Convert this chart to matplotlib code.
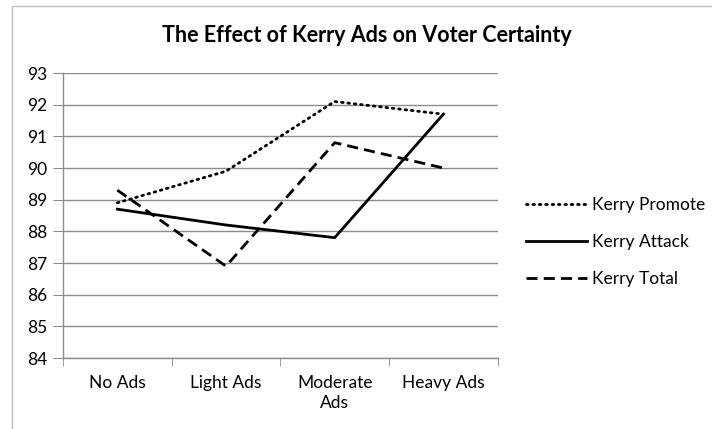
import matplotlib.pyplot as plt
from matplotlib.patches import Rectangle

categories = ["No Ads", "Light Ads", "Moderate\nAds", "Heavy Ads"]

promote = [88.9, 89.9, 92.1, 91.7]
attack = [88.7, 88.2, 87.8, 91.7]
total = [89.3, 86.9, 90.8, 90.0]

plt.rcParams["font.family"] = ["Lato", "DejaVu Sans"]

fig = plt.figure(figsize=(7.12, 4.29), dpi=100)
ax = fig.add_axes([0.0885, 0.1655, 0.6105, 0.6643])

# chart frame
fig.patches.append(Rectangle((12 / 712, -0.1), 1.2, 1 - 6 / 429 + 0.1,
                             transform=fig.transFigure, fill=False,
                             edgecolor="#bdbdbd", linewidth=1.0))

x = [i + 0.5 for i in range(len(categories))]

ax.plot(x, promote, color="black", linewidth=2.0, linestyle=(0, (0.6, 1.7)),
        dash_capstyle="round", label="Kerry Promote")
ax.plot(x, attack, color="black", linewidth=2.0, label="Kerry Attack")
ax.plot(x, total, color="black", linewidth=2.0, linestyle=(0, (4, 2.2)),
        label="Kerry Total")

ax.set_xlim(0, 4)
ax.set_ylim(84, 93)
ax.set_yticks(range(84, 94))
ax.set_xticks(x)
ax.set_xticklabels(categories, linespacing=1.3)
ax.set_xticks(range(0, 5), minor=True)

ax.grid(axis="y", color="#8c8c8c", linewidth=1.0)
ax.set_axisbelow(True)

for s in ["top", "right"]:
    ax.spines[s].set_visible(False)
for s in ["left", "bottom"]:
    ax.spines[s].set_color("#8c8c8c")
    ax.spines[s].set_linewidth(1.0)

ax.tick_params(axis="y", length=7, color="#8c8c8c", labelsize=12.5, pad=4)
ax.tick_params(axis="x", which="major", length=0, labelsize=12.5, pad=12)
ax.tick_params(axis="x", which="minor", length=6, color="#8c8c8c")

fig.text(0.515, 0.918, "The Effect of Kerry Ads on Voter Certainty",
         ha="center", va="center", fontsize=15.5, fontweight="bold")

ax.legend(loc="center left", bbox_to_anchor=(1.03, 0.407), frameon=False,
          fontsize=12.5, handlelength=3.5, labelspacing=1.2, handletextpad=0.3)

fig.savefig("out.png", dpi=100)
